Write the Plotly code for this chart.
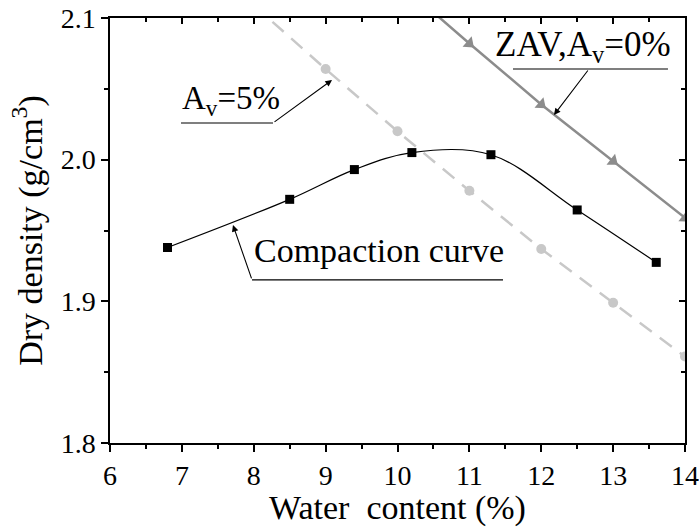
import plotly.graph_objects as go

# Compaction test results
water_content = [6.8, 8.5, 9.4, 10.2, 11.3, 12.5, 13.6]
dry_density = [1.938, 1.972, 1.993, 2.005, 2.0035, 1.9645, 1.9275]

# Air-voids lines (A_v = 5 % and zero air voids)
av5_w = [8, 9, 10, 11, 12, 13, 14]
av5_rho = [2.109, 2.064, 2.020, 1.978, 1.937, 1.899, 1.861]
zav_w = [10, 11, 12, 13, 14]
zav_rho = [2.126, 2.082, 2.039, 1.999, 1.959]

x_ticks = [6, 7, 8, 9, 10, 11, 12, 13, 14]
y_ticks = [1.8, 1.9, 2.0, 2.1]

FONT = "Liberation Serif"

fig = go.Figure()

fig.add_trace(go.Scatter(
    x=av5_w, y=av5_rho, mode="lines+markers",
    line=dict(color="#c8c8c8", width=2.5, dash="15px,10px"),
    marker=dict(symbol="circle", size=10, color="#c8c8c8"),
    showlegend=False,
))
fig.add_trace(go.Scatter(
    x=zav_w, y=zav_rho, mode="lines+markers",
    line=dict(color="#8c8c8c", width=2.5),
    marker=dict(symbol="triangle-up", size=12, color="#8c8c8c", angleref="previous"),
    showlegend=False,
))
fig.add_trace(go.Scatter(
    x=water_content, y=dry_density, mode="lines+markers",
    line=dict(color="black", width=1.2, shape="spline", smoothing=1.0),
    marker=dict(symbol="square", size=9, color="black"),
    showlegend=False,
))
# empty trace so the top/right tick axes are drawn
fig.add_trace(go.Scatter(x=[], y=[], xaxis="x2", yaxis="y2", showlegend=False))

axis_common = dict(
    showgrid=False, zeroline=False, showline=True, linecolor="black",
    linewidth=1.5, tickcolor="black", tickwidth=1.5, automargin=False,
)
tick_font = dict(family=FONT, size=28, color="black")
title_font = dict(family=FONT, size=34, color="black")

fig.update_layout(
    width=699, height=527,
    margin=dict(l=110, r=14, t=18, b=84, autoexpand=False),
    plot_bgcolor="white", paper_bgcolor="white",
    xaxis=dict(
        range=[6, 14], tickvals=x_ticks, ticks="outside", ticklen=7,
        minor=dict(dtick=0.5, ticks="outside", ticklen=4, tickwidth=1.5, tickcolor="black"),
        title=dict(text="Water  content (%)", font=title_font, standoff=10),
        tickfont=tick_font, mirror=True, **axis_common,
    ),
    yaxis=dict(
        range=[1.8, 2.1], tickvals=y_ticks, tickformat=".1f", ticks="outside", ticklen=7,
        minor=dict(dtick=0.05, ticks="outside", ticklen=4, tickwidth=1.5, tickcolor="black"),
        title=dict(text="Dry density (g/cm<sup>3</sup>)", font=title_font, standoff=8),
        tickfont=tick_font, mirror=True, **axis_common,
    ),
    xaxis2=dict(
        overlaying="x", side="top", anchor="y", range=[6, 14], tickvals=x_ticks,
        ticks="inside", ticklen=6, showticklabels=False,
        minor=dict(dtick=0.5, ticks="inside", ticklen=4, tickwidth=1.5, tickcolor="black"),
        **axis_common,
    ),
    yaxis2=dict(
        overlaying="y", side="right", anchor="x", range=[1.8, 2.1], tickvals=y_ticks,
        ticks="inside", ticklen=6, showticklabels=False,
        minor=dict(dtick=0.05, ticks="inside", ticklen=4, tickwidth=1.5, tickcolor="black"),
        **axis_common,
    ),
)

# label leader lines (underlines)
leaders = [
    (6.988, 8.268, 2.0259),
    (11.607, 13.763, 2.064),
    (7.976, 11.468, 1.9151),
]
for x0, x1, y in leaders:
    fig.add_shape(type="line", xref="x", yref="y", x0=x0, x1=x1, y0=y, y1=y,
                  line=dict(color="black", width=1.2))

arrows = [
    # (tip x, tip y, tail x, tail y)
    (9.089, 2.0562, 8.268, 2.0259),
    (12.177, 2.0315, 12.664, 2.064),
    (7.711, 1.9539, 7.976, 1.9151),
]
for tx, ty, ax, ay in arrows:
    fig.add_annotation(x=tx, y=ty, ax=ax, ay=ay, xref="x", yref="y", axref="x", ayref="y",
                       text="", showarrow=True, arrowhead=2, arrowsize=1.2,
                       arrowwidth=1.1, arrowcolor="black")

labels = [
    ("A<sub>v</sub>=5%", 6.974, 2.0421, 33),
    ("ZAV,A<sub>v</sub>=0%", 11.329, 2.0802, 35),
    ("Compaction curve", 7.976, 1.9362, 34),
]
for txt, x, y, size in labels:
    fig.add_annotation(x=x, y=y, xref="x", yref="y", text=txt, showarrow=False,
                       xanchor="left", yanchor="middle",
                       font=dict(family=FONT, size=size, color="black"))

fig.write_html("out.html")
